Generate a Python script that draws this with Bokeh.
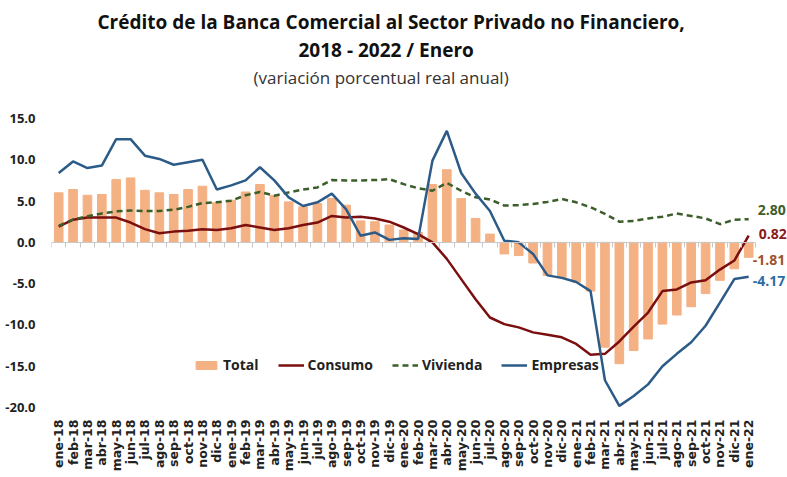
from math import pi
from bokeh.plotting import figure
from bokeh.models import (Range1d, FixedTicker, LinearAxis, Legend, LegendItem,
                          Label, Title, NumeralTickFormatter)
from bokeh.embed import file_html
from bokeh.resources import INLINE

months = ["ene-18", "feb-18", "mar-18", "abr-18", "may-18", "jun-18", "jul-18", "ago-18",
          "sep-18", "oct-18", "nov-18", "dic-18",
          "ene-19", "feb-19", "mar-19", "abr-19", "may-19", "jun-19", "jul-19", "ago-19",
          "sep-19", "oct-19", "nov-19", "dic-19",
          "ene-20", "feb-20", "mar-20", "abr-20", "may-20", "jun-20", "jul-20", "ago-20",
          "sep-20", "oct-20", "nov-20", "dic-20",
          "ene-21", "feb-21", "mar-21", "abr-21", "may-21", "jun-21", "jul-21", "ago-21",
          "sep-21", "oct-21", "nov-21", "dic-21",
          "ene-22"]

total = [6.0, 6.4, 5.7, 5.8, 7.6, 7.8, 6.3, 6.0, 5.8, 6.4, 6.8, 4.8,
         5.1, 6.1, 7.0, 5.7, 4.9, 4.3, 4.7, 5.3, 4.5, 2.6, 2.5, 2.1,
         1.5, 1.2, 7.0, 8.8, 5.3, 2.9, 1.0, -1.4, -1.6, -2.5, -4.0, -4.3,
         -4.8, -5.9, -12.7, -14.7, -13.1, -11.7, -9.9, -8.8, -7.8, -6.2, -4.6, -3.2,
         -1.81]

consumo = [1.9, 2.75, 3.0, 3.0, 3.0, 2.4, 1.6, 1.1, 1.3, 1.4, 1.6, 1.5,
           1.7, 2.1, 1.8, 1.5, 1.7, 2.1, 2.4, 3.2, 3.0, 3.1, 2.9, 2.5,
           1.8, 1.0, 0.0, -2.0, -4.45, -6.9, -9.1, -9.9, -10.3, -10.9, -11.2, -11.5,
           -12.3, -13.6, -13.5, -12.0, -10.2, -8.5, -5.9, -5.7, -4.85, -4.6, -3.3, -2.2,
           0.82]

vivienda = [2.0, 2.75, 3.15, 3.5, 3.75, 3.85, 3.8, 3.8, 3.95, 4.3, 4.75, 4.85,
            5.05, 5.7, 6.1, 5.65, 6.05, 6.4, 6.65, 7.55, 7.5, 7.5, 7.55, 7.65,
            7.05, 6.55, 6.25, 7.2, 6.25, 5.45, 5.2, 4.45, 4.5, 4.65, 4.9, 5.25,
            4.85, 4.25, 3.45, 2.5, 2.6, 2.9, 3.1, 3.5, 3.2, 2.9, 2.2, 2.75,
            2.80]

empresas = [8.4, 9.8, 9.0, 9.3, 12.5, 12.5, 10.5, 10.1, 9.4, 9.7, 10.0, 6.4,
            6.9, 7.5, 9.1, 7.5, 5.45, 4.4, 4.85, 5.9, 4.0, 0.8, 1.2, 0.3,
            0.5, 0.4, 9.9, 13.5, 8.4, 5.9, 3.8, 0.2, 0.0, -1.4, -4.0, -4.3,
            -4.8, -5.9, -16.7, -19.8, -18.6, -17.2, -15.0, -13.5, -12.1, -10.1, -7.3, -4.45,
            -4.17]

y_ticks = [-20, -15, -10, -5, 0, 5, 10, 15]

FONT = "Open Sans"
C_TOTAL = "#F4B183"
C_CONS = "#7B0F0F"
C_VIV = "#3B5E2B"
C_EMP = "#2C5B88"

x = list(range(len(months)))
n = len(months)

p = figure(width=787, height=477, x_range=Range1d(-0.5, n + 1.7),
           y_range=Range1d(-20, 15), output_backend="svg", toolbar_location=None,
           title_location=None, min_border_left=51, min_border_right=0,
           min_border_bottom=70, min_border_top=118)
p.outline_line_color = None
p.xgrid.visible = False
p.ygrid.visible = False

# y axis
ya = p.yaxis[0]
ya.ticker = FixedTicker(ticks=y_ticks)
ya.formatter = NumeralTickFormatter(format="0.0")
ya.axis_line_color = None
ya.major_tick_line_color = None
ya.minor_tick_line_color = None
ya.major_tick_out = 0
ya.major_label_standoff = 16
ya.major_label_text_font = FONT
ya.major_label_text_font_style = "bold"
ya.major_label_text_font_size = "13px"
ya.major_label_text_color = "#222222"

# x axis labels (bottom)
xa = p.xaxis[0]
xa.ticker = FixedTicker(ticks=x)
xa.major_label_overrides = {i: m for i, m in zip(x, months)}
xa.major_label_orientation = pi / 2
xa.axis_line_color = None
xa.major_tick_line_color = None
xa.minor_tick_line_color = None
xa.major_tick_out = 0
xa.major_label_standoff = 12
xa.major_label_text_font = "DejaVu Sans"
xa.major_label_text_font_style = "bold"
xa.major_label_text_font_size = "12.5px"
xa.major_label_text_color = "#222222"

# zero axis with category-boundary ticks (no labels)
za = LinearAxis(fixed_location=0, bounds=(-0.5, n - 0.5),
                ticker=FixedTicker(ticks=[i - 0.5 for i in range(n + 1)]),
                axis_line_color="#C8C8C8", major_tick_line_color="#C8C8C8",
                minor_tick_line_color=None, major_tick_in=0, major_tick_out=5,
                major_label_text_color=None, major_label_text_font_size="6px",
                major_label_standoff=0)
p.add_layout(za, "below")

bars = p.vbar(x=x, top=total, width=0.6, color=C_TOTAL)
l_cons = p.line(x, consumo, line_color=C_CONS, line_width=2.5)
l_viv = p.line(x, vivienda, line_color=C_VIV, line_width=2.5, line_dash="6 4")
l_emp = p.line(x, empresas, line_color=C_EMP, line_width=2.5)

legend = Legend(items=[LegendItem(label="Total", renderers=[bars]),
                       LegendItem(label="Consumo", renderers=[l_cons]),
                       LegendItem(label="Vivienda", renderers=[l_viv]),
                       LegendItem(label="Empresas", renderers=[l_emp])],
                orientation="horizontal", location=(142, 33),
                border_line_color=None, background_fill_alpha=0,
                glyph_width=26, glyph_height=10, label_standoff=4, spacing=19,
                padding=0, margin=0,
                label_text_font=FONT, label_text_font_style="bold",
                label_text_font_size="14px", label_text_color="#222222")
p.add_layout(legend, "center")

last = n - 1
end_labels = [(vivienda[-1], C_VIV, 9, 9), (consumo[-1], "#8B1A1A", 2, 10),
              (total[-1], "#A0522D", -3, 4), (empresas[-1], "#2E6DA4", -4, 4)]
for val, col, yo, xo in end_labels:
    p.add_layout(Label(x=last, y=val, text=f"{val:.2f}", x_offset=xo, y_offset=yo,
                       text_align="left", text_baseline="middle", text_color=col,
                       text_font=FONT, text_font_style="bold", text_font_size="14px"))

# invisible spacer between subtitle and plot area (hidden axis label)
spacer = LinearAxis(ticker=FixedTicker(ticks=[]), axis_line_color=None,
                    major_tick_line_color=None, minor_tick_line_color=None,
                    major_tick_in=0, major_tick_out=0, major_label_standoff=0,
                    major_label_text_color=None,
                    axis_label="-", axis_label_text_color=None,
                    axis_label_text_font_size="10px", axis_label_standoff=17)
p.add_layout(spacer, "above")

sub = Title(text="(variación porcentual real anual)", align="left", offset=202,
            text_font=FONT, text_font_style="normal", text_font_size="17px",
            text_color="#333333", standoff=3)
t2 = Title(text="2018 - 2022 / Enero", align="left", offset=247,
           text_font=FONT, text_font_style="bold", text_font_size="19px",
           text_color="#111111", standoff=0)
t1 = Title(text="Crédito de la Banca Comercial al Sector Privado no Financiero,",
           align="left", offset=46, text_font=FONT, text_font_style="bold",
           text_font_size="19px", text_color="#111111", standoff=0)
p.add_layout(sub, "above")
p.add_layout(t2, "above")
p.add_layout(t1, "above")

open("out.html", "w").write(file_html(p, INLINE))
